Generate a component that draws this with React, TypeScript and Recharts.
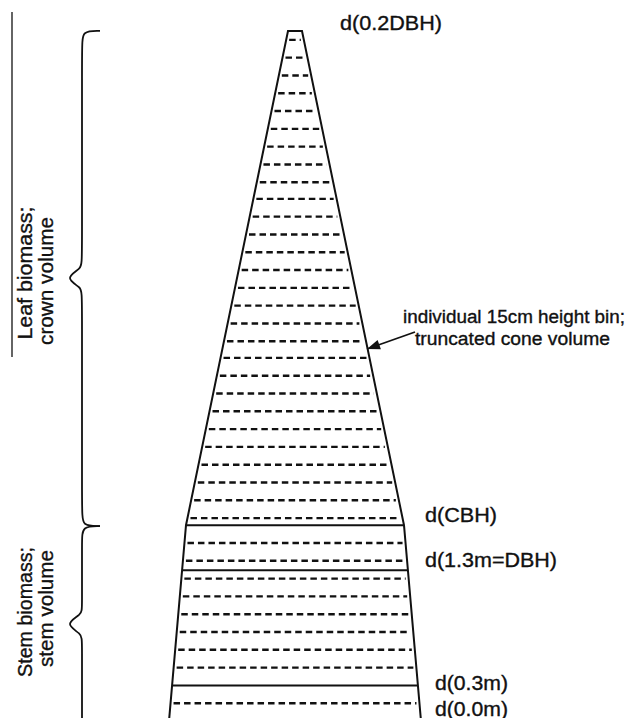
import { ComposedChart, XAxis, YAxis, Line, ReferenceLine, ReferenceDot } from "recharts";

// x is in display units of 10px, h is tree height in metres
const PX_PER_X = 10;
const PX_PER_M = 712 / 6;
const FONT = '"Liberation Sans", Arial, Helvetica, sans-serif';
const INK = "#111";

// cone outline: stem base, crown base (CBH), crown tip (0.2 DBH)
const outlineHeights = [0, 1.65, 5.815];
const outlineRadii = [12.6, 10.9, 0.7];

// 15cm height bins (dashed)
const crownBins = [
  5.74, 5.59, 5.44, 5.29, 5.14, 4.99, 4.84, 4.69, 4.54, 4.4, 4.25, 4.1, 3.95, 3.8,
  3.65, 3.5, 3.35, 3.2, 3.06, 2.91, 2.76, 2.61, 2.46, 2.31, 2.16, 2.01, 1.86, 1.71,
];
const stemBins = [1.5, 1.35, 1.2, 1.05, 0.9, 0.75, 0.6, 0.45, 0.15];

// measured diameters (solid): CBH, 1.3m = DBH, 0.3m
const solidHeights = [1.65, 1.27, 0.3];

const diameterLabels = ["d(0.2DBH)", "d(CBH)", "d(1.3m=DBH)", "d(0.3m)", "d(0.0m)"];
const diameterLabelX = [4.5, 13, 13, 14, 14];
const diameterLabelH = [5.823, 1.677, 1.298, 0.261, 0.042];
const diameterLabelLen = [102, 72, 132, 73, 73];

const sideLabels = ["Leaf biomass;", "crown volume", "Stem biomass;", "stem volume"];
const sideLabelX = [-26.3, -24.2, -26.3, -24.2];
const sideLabelH = [3.775, 3.708, 0.919, 0.948];
const sideLabelLen = [133, 128, 130, 117];

const noteLines = ["individual 15cm height bin;", "truncated cone volume"];
const noteX = [10.8, 12.0];
const noteH = [3.354, 3.169];
const noteLen = [222, 195];

const arrowFrom = { x: 12.0, h: 3.278 };
const arrowTo = { x: 7.2, h: 3.135 };

// curly braces (basis curve control points)
const crownBrace = [
  { x: -19.5, h: 5.815 }, { x: -21.3, h: 5.815 }, { x: -21.3, h: 5.7 },
  { x: -21.3, h: 3.87 }, { x: -21.3, h: 3.817 }, { x: -23.1, h: 3.733 },
  { x: -21.3, h: 3.649 }, { x: -21.3, h: 3.6 }, { x: -21.3, h: 1.76 },
  { x: -21.3, h: 1.643 }, { x: -19.5, h: 1.643 },
];
const stemBrace = [
  { x: -19.5, h: 1.643 }, { x: -21.3, h: 1.643 }, { x: -21.3, h: 1.52 },
  { x: -21.3, h: 0.95 }, { x: -21.3, h: 0.9 }, { x: -23.1, h: 0.817 },
  { x: -21.3, h: 0.733 }, { x: -21.3, h: 0.68 }, { x: -21.3, h: -0.05 },
  { x: -21.3, h: -0.12 }, { x: -19.5, h: -0.12 },
];

const sideRule = { x: -28.3, top: 5.975, bottom: 3.067 };

function radiusAt(h: number) {
  for (let i = 0; i < outlineHeights.length - 1; i++) {
    const h0 = outlineHeights[i];
    const h1 = outlineHeights[i + 1];
    if (h >= h0 && h <= h1) {
      const t = (h - h0) / (h1 - h0);
      return outlineRadii[i] + t * (outlineRadii[i + 1] - outlineRadii[i]);
    }
  }
  return outlineRadii[outlineRadii.length - 1];
}

const outline = [
  ...outlineHeights.map((h, i) => ({ x: -outlineRadii[i], h })),
  ...outlineHeights.map((h, i) => ({ x: outlineRadii[i], h })).reverse(),
];

const textShape =
  (text: string, len: number, size: number, rotate = false) =>
  (p: any) => (
    <text
      x={p.cx}
      y={p.cy}
      fontSize={size}
      fontFamily={FONT}
      fill={INK}
      stroke={INK}
      strokeWidth={0.35}
      textLength={len}
      lengthAdjust="spacingAndGlyphs"
      textAnchor={rotate ? "middle" : "start"}
      transform={rotate ? `rotate(-90 ${p.cx} ${p.cy})` : undefined}
    >
      {text}
    </text>
  );

const arrowHead = (p: any) => {
  const dx = (arrowTo.x - arrowFrom.x) * PX_PER_X;
  const dy = -(arrowTo.h - arrowFrom.h) * PX_PER_M;
  const a = Math.atan2(dy, dx);
  const L = 13;
  const W = 5;
  const bx = p.cx - L * Math.cos(a);
  const by = p.cy - L * Math.sin(a);
  const pts = [
    [p.cx, p.cy],
    [bx - W * Math.sin(a), by + W * Math.cos(a)],
    [bx + W * Math.sin(a), by - W * Math.cos(a)],
  ];
  return <polygon points={pts.map((q) => q.join(",")).join(" ")} fill={INK} />;
};

export default function App() {
  const bin = (h: number, key: string) => {
    const r = radiusAt(h) - 0.3;
    return (
      <ReferenceLine
        key={key}
        segment={[{ x: -r, y: h }, { x: r, y: h }]}
        stroke={INK}
        strokeWidth={2.4}
        strokeDasharray="6.5 4"
        ifOverflow="visible"
      />
    );
  };

  return (
    <div
      style={{
        position: "fixed",
        left: 0,
        top: 0,
        width: 627,
        height: 718,
        overflow: "hidden",
        background: "#fff",
      }}
    >
      <ComposedChart width={627} height={721} margin={{ top: 9, right: 0, bottom: 0, left: 0 }}>
        <XAxis type="number" dataKey="x" domain={[-29.5, 33.2]} hide allowDataOverflow />
        <YAxis type="number" dataKey="h" domain={[0, 6]} hide allowDataOverflow />

        {crownBins.map((h, i) => bin(h, "c" + i))}
        {stemBins.map((h, i) => bin(h, "s" + i))}

        {solidHeights.map((h, i) => {
          const r = radiusAt(h);
          return (
            <ReferenceLine
              key={"d" + i}
              segment={[{ x: -r, y: h }, { x: r, y: h }]}
              stroke={INK}
              strokeWidth={2}
              ifOverflow="visible"
            />
          );
        })}

        <Line
          data={outline}
          dataKey="h"
          type="linear"
          stroke={INK}
          strokeWidth={2}
          dot={false}
          activeDot={false}
          isAnimationActive={false}
        />
        <Line
          data={crownBrace}
          dataKey="h"
          type="basis"
          stroke={INK}
          strokeWidth={1.8}
          dot={false}
          activeDot={false}
          isAnimationActive={false}
        />
        <Line
          data={stemBrace}
          dataKey="h"
          type="basis"
          stroke={INK}
          strokeWidth={1.8}
          dot={false}
          activeDot={false}
          isAnimationActive={false}
        />

        <ReferenceLine
          segment={[{ x: sideRule.x, y: sideRule.top }, { x: sideRule.x, y: sideRule.bottom }]}
          stroke={INK}
          strokeWidth={1.3}
          ifOverflow="visible"
        />

        <ReferenceLine
          segment={[{ x: arrowFrom.x, y: arrowFrom.h }, { x: arrowTo.x, y: arrowTo.h }]}
          stroke={INK}
          strokeWidth={1.8}
          ifOverflow="visible"
        />
        <ReferenceDot x={arrowTo.x} y={arrowTo.h} r={1} ifOverflow="visible" shape={arrowHead} />

        {diameterLabels.map((t, i) => (
          <ReferenceDot
            key={"dl" + i}
            x={diameterLabelX[i]}
            y={diameterLabelH[i]}
            r={1}
            ifOverflow="visible"
            shape={textShape(t, diameterLabelLen[i], 20)}
          />
        ))}
        {sideLabels.map((t, i) => (
          <ReferenceDot
            key={"sl" + i}
            x={sideLabelX[i]}
            y={sideLabelH[i]}
            r={1}
            ifOverflow="visible"
            shape={textShape(t, sideLabelLen[i], 20, true)}
          />
        ))}
        {noteLines.map((t, i) => (
          <ReferenceDot
            key={"nl" + i}
            x={noteX[i]}
            y={noteH[i]}
            r={1}
            ifOverflow="visible"
            shape={textShape(t, noteLen[i], 18)}
          />
        ))}
      </ComposedChart>
    </div>
  );
}
